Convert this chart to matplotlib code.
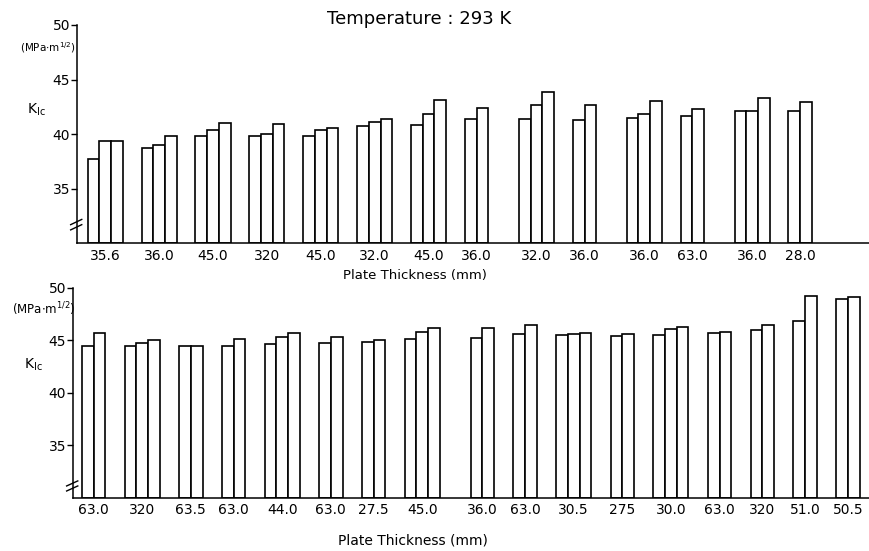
import matplotlib
matplotlib.use("Agg")
import matplotlib.pyplot as plt
from matplotlib.lines import Line2D

# ---------------- data ----------------
top_labels = ['35.6', '36.0', '45.0', '320', '45.0', '32.0', '45.0',
              '36.0', '32.0', '36.0', '36.0', '63.0', '36.0', '28.0']
top_values = [[37.7, 39.4, 39.4], [38.7, 39.0, 39.8], [39.8, 40.4, 41.0],
              [39.8, 40.0, 40.9], [39.8, 40.4, 40.6], [40.7, 41.1, 41.4],
              [40.8, 41.8, 43.1], [41.4, 42.4], [41.4, 42.7, 43.9],
              [41.3, 42.7], [41.5, 41.8, 43.0], [41.7, 42.3],
              [42.1, 42.1, 43.3], [42.1, 42.9]]

bottom_labels = ['63.0', '320', '63.5', '63.0', '44.0', '63.0', '27.5', '45.0',
                 '36.0', '63.0', '30.5', '275', '30.0', '63.0', '320', '51.0', '50.5']
bottom_values = [[44.4, 45.7], [44.4, 44.7, 45.0], [44.4, 44.4], [44.4, 45.1],
                 [44.6, 45.3, 45.7], [44.7, 45.3], [44.8, 45.0], [45.1, 45.8, 46.2],
                 [45.2, 46.2], [45.6, 46.4], [45.5, 45.6, 45.7], [45.4, 45.6],
                 [45.5, 46.1, 46.3], [45.7, 45.8], [46.0, 46.4], [46.8, 49.2],
                 [48.9, 49.1]]

y_ticks = [35, 40, 45, 50]
title = 'Temperature : 293 K'
xlabel = 'Plate Thickness (mm)'
ylabel = r'K$_{\mathregular{Ic}}$'
unit = r'(MPa$\cdot$m$^{\mathregular{1/2}}$)'

plt.rcParams['font.family'] = ['DejaVu Sans']

W, H = 870, 551
fig = plt.figure(figsize=(W / 100, H / 100), dpi=100)


def fig_rect(x0, y_top, x1, y_bot):
    return [x0 / W, 1 - y_bot / H, (x1 - x0) / W, (y_bot - y_top) / H]


def group_starts_uniform(values, pitch):
    return [i * pitch for i in range(len(values))]


def group_starts_packed(values, gap, extra_after, extra_gap):
    starts, s = [], 0.0
    for i, v in enumerate(values):
        starts.append(s)
        s += len(v) + (extra_gap if i == extra_after else gap)
    return starts


def draw_panel(ax, values, labels, starts, xlim, break_y):
    centers = []
    for s, vals in zip(starts, values):
        xs = [s + j + 0.5 for j in range(len(vals))]
        ax.bar(xs, [v - 30 for v in vals], bottom=30, width=1.0,
               facecolor='white', edgecolor='black', linewidth=1.2)
        centers.append(s + len(vals) / 2)
    ax.set_xlim(*xlim)
    ax.set_ylim(30, 50)
    ax.set_yticks(y_ticks)
    ax.set_yticklabels([str(t) for t in y_ticks], fontsize=10)
    ax.set_xticks(centers)
    ax.set_xticklabels(labels, fontsize=10)
    ax.tick_params(axis='x', length=0, pad=4)
    ax.tick_params(axis='y', length=4, width=1, direction='out', pad=1)
    for sp in ['top', 'right']:
        ax.spines[sp].set_visible(False)
    ax.spines['left'].set_linewidth(1.1)
    ax.spines['bottom'].set_linewidth(1.1)
    # axis break mark
    yb = (break_y - 30) / 20
    for dy in (-0.012, 0.012):
        ax.add_line(Line2D([-0.008, 0.006], [yb + dy - 0.012, yb + dy + 0.012],
                           transform=ax.transAxes, color='black', lw=1.0,
                           clip_on=False))


# top panel
ax1 = fig.add_axes(fig_rect(77, 25, 870, 243.2))
st1 = group_starts_uniform(top_values, 4.61)
draw_panel(ax1, top_values, top_labels, st1, (-0.91, 66.9), 31.7)

# bottom panel
ax2 = fig.add_axes(fig_rect(73, 287.7, 870, 497.5))
st2 = group_starts_packed(bottom_values, 1.67, 7, 2.65)
draw_panel(ax2, bottom_values, bottom_labels, st2, (-0.77, 67.6), 31.1)

fig.text(419 / W, 1 - 19 / H, title, ha='center', va='center', fontsize=13)
fig.text(415 / W, 1 - 276 / H, xlabel, ha='center', va='center', fontsize=9.5)
fig.text(413 / W, 1 - 540 / H, xlabel, ha='center', va='center', fontsize=10)
fig.text(48 / W, 1 - 48 / H, unit, ha='center', va='center', fontsize=7.5)
fig.text(44 / W, 1 - 309 / H, unit, ha='center', va='center', fontsize=8.5)
fig.text(36 / W, 1 - 110 / H, ylabel, ha='center', va='center', fontsize=10)
fig.text(33 / W, 1 - 365 / H, ylabel, ha='center', va='center', fontsize=10)

fig.savefig('out.png', dpi=100, facecolor='white')
